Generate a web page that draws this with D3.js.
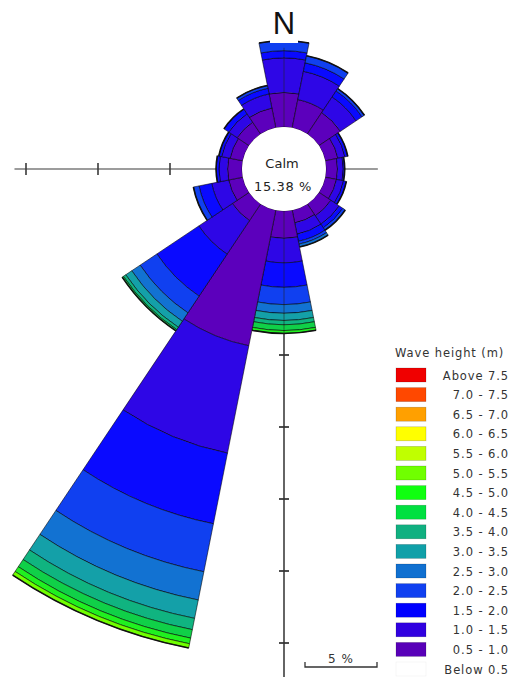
<!DOCTYPE html>
<html>
<head>
<meta charset="utf-8">
<script src="https://cdn.jsdelivr.net/npm/d3@7"></script>
<style>
  html, body { margin: 0; padding: 0; background: #fff; }
  svg { display: block; font-family: "DejaVu Sans", Verdana, sans-serif; }
</style>
</head>
<body>
<svg id="chart" width="517" height="677"></svg>
<script>
// ---------- DATA ----------
const directions = ["N","NNE","NE","ENE","E","ESE","SE","SSE","S","SSW","SW","WSW","W","WNW","NW","NNW"];
// wave-height classes (m), innermost first
const classLabels = ["0.5 - 1.0","1.0 - 1.5","1.5 - 2.0","2.0 - 2.5","2.5 - 3.0","3.0 - 3.5","3.5 - 4.0",
                     "4.0 - 4.5","4.5 - 5.0","5.0 - 5.5","5.5 - 6.0","6.0 - 6.5","6.5 - 7.0","7.0 - 7.5","Above 7.5"];
const classColors = ["#5c00bc","#2e06e6","#0a0aff","#1040f0","#1272d2","#14a0a8","#10b480",
                     "#10d048","#20f020","#70ff00","#c0ff00","#ffff00","#ffa000","#ff4800","#f00000"];
// frequency (%) per class for each direction, innermost class first
const freqN   = [2.4, 2.4, 0.5, 0.7];
const freqNNE = [2.0, 2.0, 0.6, 0.5];
const freqNE  = [1.8, 1.3, 0.5, 0.2];
const freqENE = [0.9, 0.5, 0.2];
const freqE   = [0.8, 0.4, 0.1];
const freqESE = [0.8, 0.5, 0.2];
const freqSE  = [1.0, 0.7, 0.3, 0.2];
const freqSSE = [0.9, 0.8, 0.5, 0.2, 0.2];
const freqS   = [1.9, 1.7, 1.7, 1.2, 0.6, 0.5, 0.3, 0.4, 0.2];
const freqSSW = [9.6, 7.6, 5.0, 3.4, 2.0, 1.3, 0.8, 0.6, 0.4, 0.3];
const freqSW  = [1.4, 2.8, 3.5, 1.4, 0.7, 0.5, 0.2, 0.1];
const freqWSW = [1.0, 1.2, 0.9, 0.4];
const freqW   = [1.0, 0.6, 0.2];
const freqWNW = [0.9, 0.6, 0.2];
const freqNW  = [1.0, 0.7, 0.4];
const freqNNW = [1.4, 1.0, 0.4, 0.2];
const freqByDir = [freqN,freqNNE,freqNE,freqENE,freqE,freqESE,freqSE,freqSSE,
                   freqS,freqSSW,freqSW,freqWSW,freqW,freqWNW,freqNW,freqNNW];
const calmPct = "15.38 %";
const hTicks = [5, 10, 15];             // % on horizontal (west) axis
const vTicks = [5, 10, 15, 20, 25, 30]; // % on vertical (south) axis
const legendLabels = ["Above 7.5","7.0 - 7.5","6.5 - 7.0","6.0 - 6.5","5.5 - 6.0","5.0 - 5.5","4.5 - 5.0",
                      "4.0 - 4.5","3.5 - 4.0","3.0 - 3.5","2.5 - 3.0","2.0 - 2.5","1.5 - 2.0","1.0 - 1.5","0.5 - 1.0","Below 0.5"];
const legendColors = ["#f00000","#ff4800","#ffa000","#ffff00","#c0ff00","#70ff00","#10ff10",
                      "#00e040","#10b080","#10a0a8","#1070d0","#1040f0","#0000ff","#3000e0","#5800b8","#ffffff"];

// ---------- LAYOUT ----------
const svg = d3.select("#chart");
const cx = 284, cy = 169, R0 = 42, pxPer5 = 72;
const r = d3.scaleLinear().domain([0, 5]).range([R0, R0 + pxPer5]);
const g = svg.append("g").attr("transform", `translate(${cx},${cy})`);
const step = 2 * Math.PI / directions.length;
const axisColor = "#3a3a3a";

// axes (under petals)
const axLeft = 15.8, axRight = 3.6, axDown = 33, axUp = 5.5;
g.append("line").attr("x1", -r(axLeft)).attr("x2", r(axRight)).attr("y1", 0).attr("y2", 0)
  .attr("stroke", axisColor).attr("stroke-width", 1.2);
g.append("line").attr("x1", 0).attr("x2", 0).attr("y1", -r(axUp)).attr("y2", r(axDown))
  .attr("stroke", axisColor).attr("stroke-width", 1.3);
g.selectAll(".htick").data(hTicks).enter().append("line")
  .attr("x1", d => -r(d)).attr("x2", d => -r(d)).attr("y1", -6).attr("y2", 6)
  .attr("stroke", axisColor).attr("stroke-width", 1.6);
g.selectAll(".vtick").data(vTicks).enter().append("line")
  .attr("y1", d => r(d)).attr("y2", d => r(d)).attr("x1", -5).attr("x2", 5)
  .attr("stroke", axisColor).attr("stroke-width", 1.8);

// petals
const arc = d3.arc();
directions.forEach((dir, i) => {
  const vals = freqByDir[i];
  const a0 = i * step - step / 2, a1 = i * step + step / 2;
  let cum = 0;
  const segs = vals.map((v, k) => { const s = {k, from: cum, to: cum + v}; cum += v; return s; });
  const pg = g.append("g").attr("class", "petal-" + dir);
  pg.selectAll("path").data(segs).enter().append("path")
    .attr("d", s => arc({innerRadius: r(s.from), outerRadius: r(s.to), startAngle: a0, endAngle: a1}))
    .attr("fill", s => classColors[s.k])
    .attr("stroke", "rgba(0,0,0,0.7)").attr("stroke-width", 0.8);
  pg.append("path")
    .attr("d", arc({innerRadius: r(cum), outerRadius: r(cum), startAngle: a0, endAngle: a1}))
    .attr("fill", "none").attr("stroke", "#111").attr("stroke-width", 1.6);
});

// vertical axis line drawn through petals
g.append("line").attr("x1", 0).attr("x2", 0).attr("y1", -r(axUp)).attr("y2", r(axDown))
  .attr("stroke", "#222").attr("stroke-width", 1).attr("opacity", 0.55);

// calm circle
g.append("circle").attr("r", R0).attr("fill", "#fff");
g.append("text").attr("x", -2).attr("y", -1).attr("text-anchor", "middle")
  .attr("font-size", 13).attr("fill", "#222").text("Calm");
g.append("text").attr("x", -1).attr("y", 22).attr("text-anchor", "middle")
  .attr("font-size", 13).attr("letter-spacing", 0.6).attr("fill", "#222").text(calmPct);

// N label with white box
svg.append("rect").attr("x", 270).attr("y", 6).attr("width", 28).attr("height", 37).attr("fill", "#fff");
svg.append("text").attr("x", cx).attr("y", 34).attr("text-anchor", "middle")
  .attr("font-family", "Liberation Sans, Arial, sans-serif")
  .attr("font-size", 31).attr("fill", "#111").text("N");

// legend
const lg = svg.append("g");
lg.append("text").attr("x", 395).attr("y", 357).attr("font-size", 11.5).attr("letter-spacing", 0.9)
  .attr("fill", "#333").text("Wave height (m)");
const rowH = 19.6, y0 = 368;
lg.selectAll(".sw").data(legendColors).enter().append("rect")
  .attr("x", 396).attr("y", (d, i) => y0 + i * rowH).attr("width", 30).attr("height", 14)
  .attr("fill", d => d).attr("stroke", (d, i) => i === legendColors.length - 1 ? "#f0f0f0" : "rgba(0,0,0,0.25)")
  .attr("stroke-width", 0.6);
lg.selectAll(".lb").data(legendLabels).enter().append("text")
  .attr("x", 509).attr("y", (d, i) => y0 + i * rowH + 11.5).attr("text-anchor", "end")
  .attr("font-size", 11.5).attr("letter-spacing", 0.9).attr("fill", "#333").text(d => d);

// scale bar (5 %)
const sb = svg.append("g");
const sbx0 = 305, sbx1 = 305 + (r(5) - r(0)), sby = 667;
sb.append("path").attr("d", `M${sbx0},${sby - 5}V${sby}H${sbx1}V${sby - 5}`)
  .attr("fill", "none").attr("stroke", "#333").attr("stroke-width", 1.3);
sb.append("text").attr("x", (sbx0 + sbx1) / 2).attr("y", sby - 4).attr("text-anchor", "middle")
  .attr("font-size", 12).attr("letter-spacing", 1).attr("fill", "#333").text("5 %");
</script>
</body>
</html>
